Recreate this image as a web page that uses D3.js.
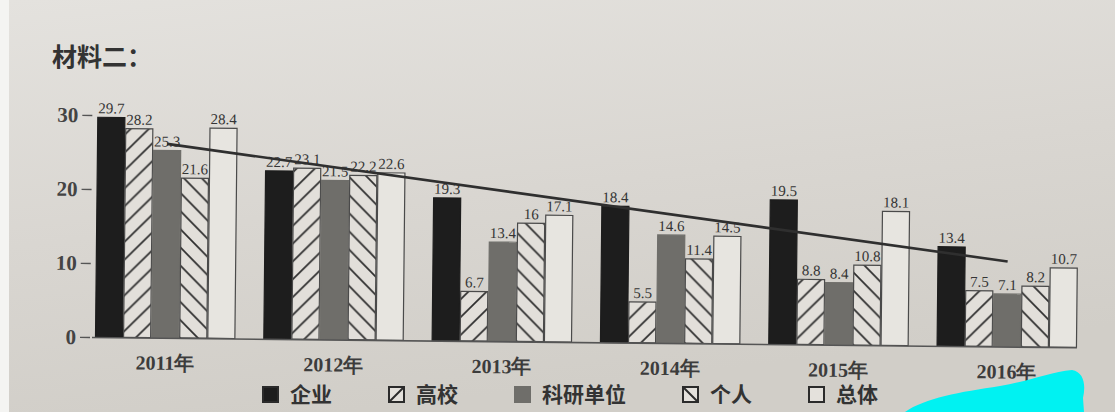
<!DOCTYPE html>
<html>
<head>
<meta charset="utf-8">
<script src="https://cdn.jsdelivr.net/npm/d3@7"></script>
<style>
  body { margin: 0; background: #f4f4f2; }
  svg { display: block; }
</style>
</head>
<body>
<svg id="chart" width="1115" height="412"></svg>
<script>
// data
const years = ['2011年', '2012年', '2013年', '2014年', '2015年', '2016年'];
const seriesNames = ['企业', '高校', '科研单位', '个人', '总体'];
const qiye = [29.7, 22.7, 19.3, 18.4, 19.5, 13.4];
const gaoxiao = [28.2, 23.1, 6.7, 5.5, 8.8, 7.5];
const keyan = [25.3, 21.5, 13.4, 14.6, 8.4, 7.1];
const geren = [21.6, 22.2, 16, 11.4, 10.8, 8.2];
const zongti = [28.4, 22.6, 17.1, 14.5, 18.1, 10.7];
const trendEnds = [26.2, 11.5]; // hand-drawn trend line, 2011 -> 2016
const yTicks = [0, 10, 20, 30];

const seriesValues = [qiye, gaoxiao, keyan, geren, zongti];

const svg = d3.select('#chart');
const serif = '"Liberation Serif", "DejaVu Serif", serif';
const cjk = '"Noto Sans CJK SC", sans-serif';
const ink = '#353535';

// paper
const defs = svg.append('defs');
const grad = defs.append('linearGradient').attr('id', 'paper')
  .attr('x1', 0).attr('y1', 0).attr('x2', 0.3).attr('y2', 1);
grad.append('stop').attr('offset', '0%').attr('stop-color', '#e4e2de');
grad.append('stop').attr('offset', '55%').attr('stop-color', '#d9d6d1');
grad.append('stop').attr('offset', '100%').attr('stop-color', '#d1cec8');

function hatch(id, d) {
  const p = defs.append('pattern').attr('id', id)
    .attr('patternUnits', 'userSpaceOnUse').attr('width', 18).attr('height', 18);
  p.append('rect').attr('width', 18).attr('height', 18).attr('fill', '#e2dfda');
  p.append('path').attr('d', d).attr('stroke', '#2e2e2e').attr('stroke-width', 1.7);
}
hatch('fwd', 'M-4.5,4.5L4.5,-4.5M0,18L18,0M13.5,22.5L22.5,13.5');
hatch('back', 'M-4.5,13.5L4.5,22.5M0,0L18,18M13.5,-4.5L22.5,4.5');

const fills = ['#1d1d1d', 'url(#fwd)', '#6f6e6a', 'url(#back)', '#e7e5e0'];
const strokes = ['#1d1d1d', '#4a4a4a', '#6f6e6a', '#4a4a4a', '#4a4a4a'];

svg.append('rect').attr('x', 9).attr('y', 0).attr('width', 1106).attr('height', 412)
  .attr('fill', 'url(#paper)');

// title
svg.append('text').attr('x', 52).attr('y', 66)
  .attr('font-family', cjk).attr('font-size', 25).attr('font-weight', 'bold')
  .attr('fill', '#333').text('材料二：');

// chart body, slightly tilted like the photo
const g = svg.append('g').attr('transform', 'rotate(0.6, 92, 337)');

const y = d3.scaleLinear().domain([0, 30]).range([337, 115]);
const x0 = d3.scaleBand().domain(years).range([95, 1077]).paddingInner(0.166).paddingOuter(0);
const x1 = d3.scaleBand().domain(seriesNames).range([0, x0.bandwidth()]);

// y axis (ticks only, no spine)
const yAxis = g.append('g').attr('transform', 'translate(90,0)')
  .call(d3.axisLeft(y).tickValues(yTicks).tickSize(10).tickPadding(4));
yAxis.select('.domain').remove();
yAxis.selectAll('line').attr('stroke', '#555').attr('stroke-width', 1.3);
yAxis.selectAll('text').attr('font-family', serif).attr('font-size', 21)
  .attr('font-weight', 'bold').attr('fill', '#444');

// bars
const groups = g.selectAll('g.year').data(years).enter().append('g')
  .attr('class', 'year')
  .attr('transform', d => `translate(${x0(d)},0)`);

groups.each(function (yr, i) {
  const row = seriesNames.map((s, k) => ({ s, k, v: seriesValues[k][i] }));
  const grp = d3.select(this);
  grp.selectAll('rect').data(row).enter().append('rect')
    .attr('x', d => x1(d.s) + 0.5)
    .attr('y', d => y(d.v))
    .attr('width', x1.bandwidth() - 1)
    .attr('height', d => y(0) - y(d.v))
    .attr('fill', d => fills[d.k])
    .attr('stroke', d => strokes[d.k])
    .attr('stroke-width', 1.2);
  grp.selectAll('text').data(row).enter().append('text')
    .attr('x', d => x1(d.s) + x1.bandwidth() / 2)
    .attr('y', d => y(d.v) - 4)
    .attr('text-anchor', 'middle')
    .attr('font-family', serif).attr('font-size', 15)
    .attr('fill', ink)
    .text(d => d.v);
});

// x axis
const xAxis = g.append('g').attr('transform', `translate(0,${y(0)})`)
  .call(d3.axisBottom(x0).tickSize(0).tickPadding(14));
xAxis.select('.domain').attr('d', 'M92,0.5H1077').attr('stroke', '#555').attr('stroke-width', 1.6);
xAxis.selectAll('text').attr('font-family', serif).attr('font-size', 20)
  .attr('font-weight', 'bold').attr('fill', '#3c3c3c').attr('dy', '0.9em');

// trend line
const tx = [x0(years[0]) + x0.bandwidth() / 2, x0(years[years.length - 1]) + x0.bandwidth() / 2];
g.append('path')
  .datum(trendEnds.map((v, k) => [tx[k], y(v)]))
  .attr('d', d3.line())
  .attr('stroke', '#2f2f2f').attr('stroke-width', 2.6).attr('fill', 'none');

// legend
const legend = svg.append('g').attr('transform', 'translate(263,400)');
let lx = 0;
seriesNames.forEach((name, k) => {
  const item = legend.append('g').attr('transform', `translate(${lx},0)`);
  item.append('rect').attr('x', 0).attr('y', -13).attr('width', 15).attr('height', 15)
    .attr('fill', k === 0 ? '#1d1d1d' : (k === 2 ? '#6f6e6a' : '#e4e1dc'))
    .attr('stroke', k === 2 ? '#6f6e6a' : '#2b2b2b').attr('stroke-width', 2);
  if (k === 1) {
    item.append('line').attr('x1', 1).attr('y1', 1).attr('x2', 14).attr('y2', -12)
      .attr('stroke', '#2b2b2b').attr('stroke-width', 2);
  }
  if (k === 3) {
    item.append('line').attr('x1', 1).attr('y1', -12).attr('x2', 14).attr('y2', 1)
      .attr('stroke', '#2b2b2b').attr('stroke-width', 2);
  }
  const t = item.append('text').attr('x', 27).attr('y', 2)
    .attr('font-family', cjk).attr('font-size', 21).attr('font-weight', 'bold')
    .attr('fill', '#333').text(name);
  lx += 27 + t.node().getComputedTextLength() + 57;
});

// cyan marker smudge over the corner of the photo
svg.append('path')
  .attr('d', 'M905,412C925,398 960,392 1000,386C1030,381 1050,372 1072,370C1084,372 1086,385 1083,398L1084,412Z')
  .attr('fill', '#00f2f2');
</script>
</body>
</html>
